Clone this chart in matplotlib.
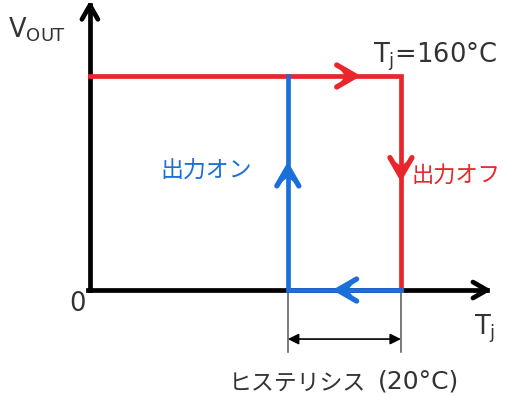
import numpy as np
import matplotlib
matplotlib.use("Agg")
import matplotlib.pyplot as plt
import matplotlib.transforms as mtransforms
from matplotlib.patches import Polygon

plt.rcParams['font.family'] = ['DejaVu Sans', 'Noto Sans CJK JP']

# temperatures (°C) and output levels
t_origin = 105
t_on = 140
t_off = 160
hysteresis = t_off - t_on
v_low = 0.0
v_high = 1.0

RED = '#E8262B'
BLUE = '#1B6FD9'
TXT = '#333333'
LW = 3.4

fig = plt.figure(figsize=(5.05, 3.96), dpi=100)
ax = fig.add_axes([0, 0, 1, 1])
ax.set_xlim(89.1, 178.4)
ax.set_ylim(-0.495, 1.355)
ax.axis('off')

ident = mtransforms.IdentityTransform()


def chevron(x, y, d, color, back=19, spread=11, lw=LW + 0.4, fill=True):
    tx, ty = ax.transData.transform((x, y))
    ux, uy = d
    bx, by = tx - back * ux, ty - back * uy
    px, py = -uy, ux
    a1 = (bx + spread * px, by + spread * py)
    a2 = (bx - spread * px, by - spread * py)
    ax.plot([a1[0], tx, a2[0]], [a1[1], ty, a2[1]], color=color, lw=lw,
            transform=ident, solid_capstyle='round', solid_joinstyle='round',
            zorder=5)
    if fill:
        notch = (tx - 0.55 * back * ux, ty - 0.55 * back * uy)
        ax.add_patch(Polygon([a1, (tx, ty), a2, notch], closed=True,
                             facecolor=color, edgecolor='none',
                             transform=ident, zorder=5))


# axes
x_end = 175.2
y_end = 1.33
ax.plot([t_origin - 0.3, x_end], [v_low, v_low], color='black', lw=LW, zorder=2)
ax.plot([t_origin, t_origin], [v_low, y_end], color='black', lw=LW, zorder=2)
chevron(x_end, v_low, (1, 0), 'black', back=14, spread=8, lw=LW, fill=False)
chevron(t_origin, y_end, (0, 1), 'black', back=14, spread=8, lw=LW, fill=False)

# red path: heating, output off at t_off
ax.plot([t_origin, t_off, t_off], [v_high, v_high, v_low], color=RED, lw=LW,
        solid_joinstyle='miter', zorder=3)
chevron(t_on + 0.6 * hysteresis, v_high, (1, 0), RED)
chevron(t_off, 0.53, (0, -1), RED)

# blue path: cooling, output on at t_on
ax.plot([t_off, t_on, t_on], [v_low, v_low, v_high], color=BLUE, lw=LW,
        solid_joinstyle='miter', zorder=4)
chevron(t_on, 0.575, (0, 1), BLUE)
chevron(t_on + 0.44 * hysteresis, v_low, (-1, 0), BLUE)

# hysteresis dimension
for t in (t_on, t_off):
    ax.plot([t, t], [v_low - 0.01, -0.29], color='#555555', lw=1.1, zorder=1)
ax.annotate('', xy=(t_on, -0.229), xytext=(t_off, -0.229),
            arrowprops=dict(arrowstyle='<|-|>', color='black', lw=1.2,
                            mutation_scale=16, shrinkA=0, shrinkB=0))

# labels
ax.text(90.5, 1.178, r'V$_\mathregular{OUT}$', fontsize=18.5, color=TXT,
        ha='left', va='baseline')
ax.text(102.8, -0.065, '0', fontsize=18.5, color=TXT, ha='center', va='center')
ax.text(173.0, -0.21, r'T$_\mathregular{j}$', fontsize=18.5, color=TXT,
        ha='left', va='baseline')
ax.text(155.0, 1.065, r'T$_\mathregular{j}$=160°C', fontsize=18.5, color=TXT,
        ha='left', va='baseline')
ax.text(125.5, 0.556, '出力オン', fontsize=16.5, color=BLUE, ha='center',
        va='center')
ax.text(161.8, 0.537, '出力オフ', fontsize=16, color=RED, ha='left',
        va='center')
ax.text(129.5, -0.465, 'ヒステリシス', fontsize=16.5, color=TXT,
        ha='left', va='baseline')
ax.text(156.0, -0.458, '(20°C)', fontsize=18, color=TXT,
        ha='left', va='baseline')

fig.savefig('out.png', dpi=100)
